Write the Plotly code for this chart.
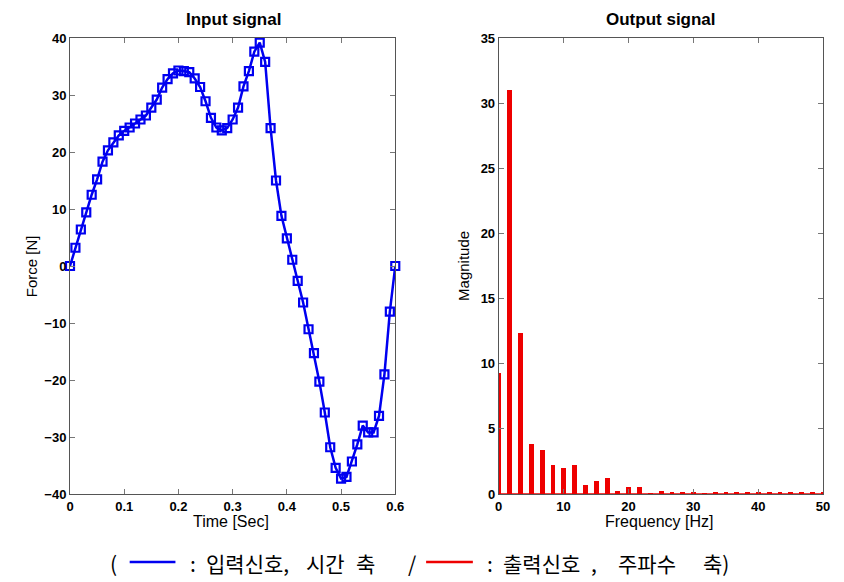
import plotly.graph_objects as go

# ---- data ----
time_s = [0.00, 0.01, 0.02, 0.03, 0.04, 0.05, 0.06, 0.07, 0.08, 0.09,
          0.10, 0.11, 0.12, 0.13, 0.14, 0.15, 0.16, 0.17, 0.18, 0.19,
          0.20, 0.21, 0.22, 0.23, 0.24, 0.25, 0.26, 0.27, 0.28, 0.29,
          0.30, 0.31, 0.32, 0.33, 0.34, 0.35, 0.36, 0.37, 0.38, 0.39,
          0.40, 0.41, 0.42, 0.43, 0.44, 0.45, 0.46, 0.47, 0.48, 0.49,
          0.50, 0.51, 0.52, 0.53, 0.54, 0.55, 0.56, 0.57, 0.58, 0.59, 0.60]
force_n = [0, 3.2, 6.4, 9.4, 12.5, 15.2, 18.3, 20.3, 21.7, 22.9,
           23.7, 24.3, 25.0, 25.7, 26.4, 27.8, 29.2, 31.3, 32.8, 33.8,
           34.3, 34.2, 34.0, 32.9, 31.4, 28.9, 26.0, 24.3, 23.8, 24.2,
           25.7, 27.8, 31.5, 34.2, 37.6, 39.2, 35.8, 24.2, 15.0, 8.8,
           4.85, 1.1, -2.6, -6.4, -11.1, -15.3, -20.3, -25.7, -31.8, -35.4,
           -37.3, -37.0, -34.3, -31.3, -28.0, -29.2, -29.2, -26.3, -19.0, -8.0, 0]

freq_hz = [0, 1.67, 3.33, 5, 6.67, 8.33, 10, 11.67, 13.33, 15, 16.67, 18.33,
           20, 21.67, 23.33, 25, 26.67, 28.33, 30, 31.67, 33.33, 35, 36.67,
           38.33, 40, 41.67, 43.33, 45, 46.67, 48.33, 50]
magnitude = [9.3, 31.0, 12.35, 3.84, 3.4, 2.25, 2.0, 2.25, 0.66, 0.97, 1.23, 0.2,
             0.51, 0.51, 0.05, 0.2, 0.15, 0.12, 0.15, 0.05, 0.1, 0.08, 0.1,
             0.1, 0.12, 0.08, 0.1, 0.08, 0.1, 0.1, 0.08]

left_xticks = [0, 0.1, 0.2, 0.3, 0.4, 0.5, 0.6]
left_yticks = [-40, -30, -20, -10, 0, 10, 20, 30, 40]
right_xticks = [0, 10, 20, 30, 40, 50]
right_yticks = [0, 5, 10, 15, 20, 25, 30, 35]

# ---- figure ----
W, H = 844, 582
ML, MR, MT, MB = 70, 17, 38, 88
PW, PH = W - ML - MR, H - MT - MB


def px(x):
    return (x - ML) / PW


def py(y):
    return (H - MB - y) / PH


FONT = "Liberation Sans, Arial, sans-serif"
BLUE = "#0000f0"
RED = "#ee0000"

fig = go.Figure()
fig.add_trace(go.Scatter(
    x=time_s, y=force_n, mode="lines+markers",
    line=dict(color=BLUE, width=2.5),
    marker=dict(symbol="square-open", size=8, color=BLUE, line=dict(width=2.2, color=BLUE)),
    xaxis="x", yaxis="y", showlegend=False, cliponaxis=False,
))
fig.add_trace(go.Bar(
    x=freq_hz, y=magnitude, width=0.75,
    marker=dict(color=RED, line=dict(width=0)),
    xaxis="x2", yaxis="y2", showlegend=False,
))

axis_common = dict(
    showline=True, mirror="ticks", linecolor="#555555", linewidth=1,
    ticks="inside", ticklen=5, tickcolor="#777777", tickwidth=1,
    showgrid=False, zeroline=False,
    tickfont=dict(family=FONT, size=13, color="black", weight="bold"),
)

fig.update_layout(
    width=W, height=H,
    margin=dict(l=ML, r=MR, t=MT, b=MB),
    paper_bgcolor="white", plot_bgcolor="white",
    xaxis=dict(domain=[0, px(397)], range=[0, 0.6], tickvals=left_xticks,
               ticktext=[f"{v:g}" for v in left_xticks], anchor="y", **axis_common),
    yaxis=dict(domain=[0, 1], range=[-40, 40], tickvals=left_yticks, anchor="x", **axis_common),
    xaxis2=dict(domain=[px(501), 1], range=[0, 50], tickvals=right_xticks, anchor="y2", **axis_common),
    yaxis2=dict(domain=[0, 1], range=[0, 35], tickvals=right_yticks, anchor="x2", **axis_common),
    bargap=0,
)

# zero baseline on spectrum
fig.add_shape(type="line", xref="x2 domain", yref="y2", x0=0, x1=1, y0=0, y1=0,
              line=dict(color=RED, width=1.5))

ann = []


def text(s, x, y, size, weight="normal", angle=0, xanchor="center", family=FONT):
    ann.append(dict(text=s, x=px(x), y=py(y), xref="paper", yref="paper",
                    showarrow=False, xanchor=xanchor, yanchor="middle", textangle=angle,
                    font=dict(family=family, size=size, color="black", weight=weight)))


text("Input signal", 234, 20, 17, "bold")
text("Output signal", 664, 20, 17, "bold")
text("Time [Sec]", 232, 521, 16)
text("Frequency [Hz]", 662, 521, 16)
text("Force [N]", 31, 266, 15, angle=-90)
text("Magnitude", 465, 266, 15, angle=-90)

KR = "Noto Sans CJK KR, sans-serif"
CY = 563
for s, x in [("(", 108), (":", 189), ("입력신호,", 205), ("시간", 305), ("축", 356),
             ("/", 408), (":", 487), ("출력신호", 503), (",", 592), ("주파수", 619),
             ("축)", 704)]:
    text(s, x, CY, 21, xanchor="left", family=KR)
fig.update_layout(annotations=ann)

fig.add_shape(type="line", xref="paper", yref="paper", x0=px(130), x1=px(176),
              y0=py(562), y1=py(562), line=dict(color=BLUE, width=2.5))
fig.add_shape(type="line", xref="paper", yref="paper", x0=px(428), x1=px(475),
              y0=py(562), y1=py(562), line=dict(color=RED, width=2.5))

fig.write_html("out.html")
